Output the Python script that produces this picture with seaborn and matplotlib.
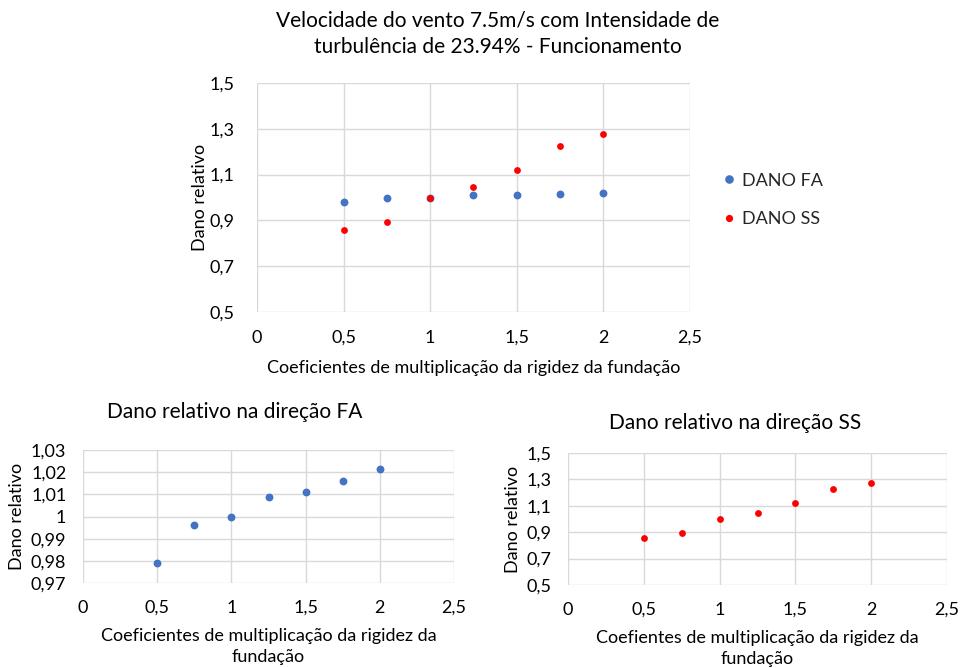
import matplotlib
matplotlib.use("Agg")
import matplotlib.pyplot as plt
from matplotlib.lines import Line2D
import seaborn as sns
import pandas as pd

coef = [0.5, 0.75, 1.0, 1.25, 1.5, 1.75, 2.0]
dano_fa = [0.979, 0.996, 1.000, 1.009, 1.011, 1.016, 1.0215]
dano_ss = [0.859, 0.892, 1.000, 1.048, 1.118, 1.226, 1.276]

sns.set_theme(style="white")
plt.rcParams['font.family'] = ['Lato', 'DejaVu Sans']

W, H = 962, 668
fig = plt.figure(figsize=(W / 100, H / 100), dpi=100)

BLUE = "#4472C4"
RED = "#FF0000"
GRID = "#D9D9D9"
TXT = "#000000"
S_BLUE = 32
S_RED = 24


def ax_px(l, t, r, b):
    return fig.add_axes([l / W, 1 - b / H, (r - l) / W, (b - t) / H])


def style(ax, yticks, ylabels, fs, xpad, ypad):
    ax.set_xlim(0, 2.5)
    ax.set_xticks([0, 0.5, 1, 1.5, 2, 2.5])
    ax.set_xticklabels(["0", "0,5", "1", "1,5", "2", "2,5"], fontsize=fs, color=TXT)
    ax.set_ylim(yticks[0], yticks[-1])
    ax.set_yticks(yticks)
    ax.set_yticklabels(ylabels, fontsize=fs, color=TXT)
    ax.grid(True, color=GRID, linewidth=1)
    for s in ax.spines.values():
        s.set_visible(False)
    ax.tick_params(axis="x", length=0, pad=xpad)
    ax.tick_params(axis="y", length=0, pad=ypad)
    ax.set_axisbelow(True)


fa = pd.DataFrame({"coef": coef, "dano": dano_fa})
ss = pd.DataFrame({"coef": coef, "dano": dano_ss})

# main chart
ax = ax_px(257, 83, 690, 312)
sns.scatterplot(data=fa, x="coef", y="dano", color=BLUE, s=S_BLUE, linewidth=0, ax=ax, zorder=3)
sns.scatterplot(data=ss, x="coef", y="dano", color=RED, s=S_RED, linewidth=0, ax=ax, zorder=4)
style(ax, [0.5, 0.7, 0.9, 1.1, 1.3, 1.5], ["0,5", "0,7", "0,9", "1,1", "1,3", "1,5"], 13, 13, 16)
ax.set_xlabel("Coeficientes de multiplicação da rigidez da fundação", fontsize=13, color=TXT, labelpad=10)
ax.set_ylabel("Dano relativo", fontsize=13, color=TXT, labelpad=1)
fig.text(498 / W, 1 - 34 / H,
         "Velocidade do vento 7.5m/s com Intensidade de\nturbulência de 23.94% - Funcionamento",
         fontsize=15, color=TXT, ha="center", va="center", linespacing=1.4)
handles = [Line2D([], [], marker="o", linestyle="", color=BLUE, markersize=6.2, markeredgewidth=0),
           Line2D([], [], marker="o", linestyle="", color=RED, markersize=5.2, markeredgewidth=0)]
ax.legend(handles, ["DANO FA", "DANO SS"], loc="center left", bbox_to_anchor=(1.037, 0.49),
          frameon=False, fontsize=13, labelspacing=1.25, handletextpad=0.3, handlelength=0.8)

# bottom-left chart
ax2 = ax_px(83, 450, 454, 583)
sns.scatterplot(data=fa, x="coef", y="dano", color=BLUE, s=S_BLUE, linewidth=0, ax=ax2, zorder=3)
style(ax2, [0.97, 0.98, 0.99, 1.0, 1.01, 1.02, 1.03],
      ["0,97", "0,98", "0,99", "1", "1,01", "1,02", "1,03"], 13, 12, 12)
ax2.set_xlabel("Coeficientes de multiplicação da rigidez da\nfundação", fontsize=13, color=TXT,
               labelpad=9, linespacing=1.35)
ax2.set_ylabel("Dano relativo", fontsize=13, color=TXT, labelpad=4)
ax2.set_title("Dano relativo na direção FA", fontsize=15, color=TXT, pad=23, x=0.41)

# bottom-right chart
ax3 = ax_px(568, 453, 947, 585)
sns.scatterplot(data=ss, x="coef", y="dano", color=RED, s=S_RED, linewidth=0, ax=ax3, zorder=3)
style(ax3, [0.5, 0.7, 0.9, 1.1, 1.3, 1.5], ["0,5", "0,7", "0,9", "1,1", "1,3", "1,5"], 13, 12, 12)
ax3.set_xlabel("Coefientes de multiplicação da rigidez da\nfundação", fontsize=13, color=TXT,
               labelpad=9, linespacing=1.35)
ax3.set_ylabel("Dano relativo", fontsize=13, color=TXT, labelpad=4)
ax3.set_title("Dano relativo na direção SS", fontsize=15, color=TXT, pad=17, x=0.44)

fig.savefig("out.png", dpi=100, facecolor="white")
